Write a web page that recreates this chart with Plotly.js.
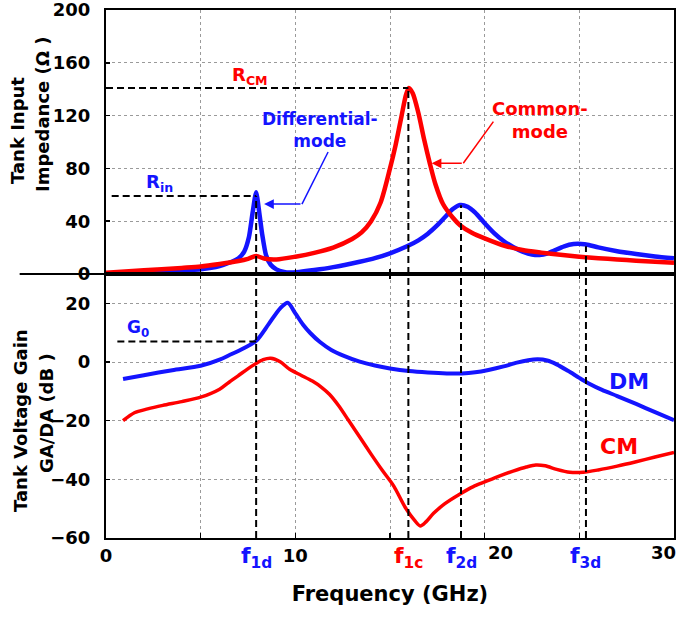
<!DOCTYPE html>
<html>
<head>
<meta charset="utf-8">
<script src="https://cdn.plot.ly/plotly-3.0.1.min.js"></script>
<style>
  html, body { margin: 0; padding: 0; background: #ffffff; }
  #chart { width: 679px; height: 617px; }
</style>
</head>
<body>
<div id="chart"></div>
<script>
// ---------------- data ----------------
// Top panel: tank input impedance (Ohm) vs frequency (GHz)
var freqDMz = [0.5, 2, 3.5, 5.0, 6.0, 6.5, 7.0, 7.3, 7.55, 7.75, 7.93, 8.1, 8.25, 8.45, 8.7, 9.0, 9.4, 9.7, 10.2, 11.0, 12.0, 13.4, 14.2, 15.0, 15.9, 16.5, 17.0, 17.5, 17.9, 18.3, 18.7, 19.1, 19.5, 20.0, 20.5, 21.0, 21.5, 22.0, 22.5, 22.9, 23.3, 23.7, 24.2, 24.7, 25.1, 25.5, 26.0, 27.0, 28.0, 29.0, 30.0];
var zDM     = [0.3, 1.0, 2.0, 3.5, 6.0, 8.5, 12, 17, 28, 47, 62, 46, 30, 14.4, 7, 3.5, 1.6, 1.1, 1.6, 3.0, 5.2, 9.3, 12, 15.7, 21, 25.5, 30.5, 37, 43, 49, 52.3, 51, 46.5, 38.5, 31, 25, 20.5, 17, 14.8, 14.4, 15.5, 18, 21, 22.7, 22.8, 22, 20.2, 17.3, 15.2, 13.3, 11.9];

var freqCMz = [0, 2, 4, 5, 6, 7, 7.5, 7.93, 8.4, 9.0, 10.0, 11.0, 12.0, 13.0, 13.5, 14.0, 14.5, 15.0, 15.3, 15.6, 15.85, 16.0, 16.2, 16.5, 16.8, 17.1, 17.4, 17.8, 18.3, 18.7, 19.3, 20.0, 21.1, 22.0, 23.0, 24.0, 25.0, 26.0, 27.0, 28.0, 29.0, 30.0];
var zCM     = [1, 2.8, 4.6, 5.6, 7.5, 9.8, 11.5, 13.6, 11.5, 11.0, 13.1, 16, 20, 26.5, 31.5, 40, 54, 80, 98, 119, 136, 141, 137, 122, 102, 84, 68, 53, 43, 37, 31.5, 27, 21.2, 18.2, 16.2, 14.5, 13.1, 12, 11, 10.1, 9.3, 8.6];

// Bottom panel: tank voltage gain (dB) vs frequency (GHz)
var freqDMg = [0.9, 2, 3.5, 5, 6, 6.5, 7.3, 7.93, 8.6, 9.2, 9.6, 10.0, 10.4, 10.8, 11.3, 11.9, 12.6, 13.4, 14.2, 15, 16, 17, 18, 18.8, 19.5, 20.2, 21, 21.7, 22.3, 22.8, 23.3, 23.8, 24.4, 25, 25.5, 26.2, 27, 28, 29, 30];
var gDM     = [-5.8, -4.5, -2.8, -1.3, 0.8, 2.3, 4.8, 7.2, 13, 18.3, 20.2, 16.6, 12.8, 9.8, 6.8, 4.1, 2, 0.1, -1.2, -2.2, -3.1, -3.6, -3.9, -3.9, -3.5, -2.7, -1.5, -0.2, 0.6, 0.9, 0.5, -0.8, -3.0, -5.4, -7.3, -9.5, -11.6, -14.3, -17.1, -19.8];

var freqCMg = [0.9, 1.5, 2.2, 3, 4, 5, 6, 6.5, 7, 7.7, 8.3, 8.7, 9.2, 9.7, 10.3, 10.9, 11.4, 11.8, 12.3, 12.8, 13.4, 14, 14.6, 15.2, 15.8, 16.3, 16.6, 16.9, 17.3, 17.9, 18.7, 19.4, 20, 20.8, 21.5, 22.2, 22.7, 23.2, 23.8, 24.5, 25.2, 26, 27, 28, 29, 30];
var gCM     = [-20, -17.3, -16, -14.8, -13.5, -12, -9.3, -6.9, -4.6, -1.4, 0.8, 1.3, 0.1, -2.5, -4.5, -6.5, -8.7, -11, -15, -19.8, -25.6, -31.4, -37, -42.3, -49.5, -54, -55.9, -54.5, -51.6, -48.3, -45, -42.5, -40.9, -38.8, -37.2, -35.8, -35.1, -35.4, -36.6, -37.6, -37.6, -36.8, -35.5, -34, -32.4, -30.8];

// marker frequencies (GHz) and levels
var markerNames = ['f1d', 'f1c', 'f2d', 'f3d'];
var markerFreqs = [7.93, 15.97, 18.75, 25.35];
var markerTopZ  = [59, 141, 52, 21];      // where the dashed guide meets the top curve (Ohm)
var markerLabel = ['f<sub>1d</sub>', 'f<sub>1c</sub>', 'f<sub>2d</sub>', 'f<sub>3d</sub>'];
var markerColor = ['#1414ff', '#ff0000', '#1414ff', '#1414ff'];
var Rin = 59, RCM = 141, G0 = 7;

// axis ticks
var zTicks = [0, 40, 80, 120, 160, 200];
var gTicks = [-60, -40, -20, 0, 20];
var fTicksAxis = [0, 10];          // labelled by the axis itself
var fTicksShifted = [20, 30];      // labelled beside their tick (as in the reference)

// ---------------- styling ----------------
var BLUE = '#1414ff', RED = '#ff0000';
var FAM = 'DejaVu Sans, Verdana, sans-serif';
function bf(size, color) { return {family: FAM, size: size, color: color || '#000', weight: 'bold'}; }

var traces = [
  {x: freqDMz, y: zDM, xaxis: 'x', yaxis: 'y', mode: 'lines', line: {color: BLUE, width: 4.5, shape: 'spline', smoothing: 0.6}, name: 'DM'},
  {x: freqCMz, y: zCM, xaxis: 'x', yaxis: 'y', mode: 'lines', line: {color: RED, width: 4.5, shape: 'spline', smoothing: 0.8}, name: 'CM'},
  {x: freqDMg, y: gDM, xaxis: 'x2', yaxis: 'y2', mode: 'lines', line: {color: BLUE, width: 4, shape: 'spline', smoothing: 0.8}, name: 'DM gain'},
  {x: freqCMg, y: gCM, xaxis: 'x2', yaxis: 'y2', mode: 'lines', line: {color: RED, width: 3.5, shape: 'spline', smoothing: 0.8}, name: 'CM gain'}
];

var DASH = '7px,4px';
var shapes = [];
// separator line extended to the left
shapes.push({type: 'line', xref: 'paper', yref: 'paper', x0: -0.152, x1: 1, y0: 0.5, y1: 0.5,
             line: {color: '#000', width: 2}, layer: 'above'});
// horizontal guides
shapes.push({type: 'line', xref: 'x', yref: 'y', x0: 0, x1: markerFreqs[1], y0: RCM, y1: RCM, line: {color: '#000', width: 2, dash: DASH}});
shapes.push({type: 'line', xref: 'x', yref: 'y', x0: 0.3, x1: markerFreqs[0], y0: Rin, y1: Rin, line: {color: '#000', width: 2, dash: DASH}});
shapes.push({type: 'line', xref: 'x2', yref: 'y2', x0: 0.6, x1: markerFreqs[0], y0: G0, y1: G0, line: {color: '#000', width: 2, dash: DASH}});
// vertical guides
for (var i = 0; i < markerFreqs.length; i++) {
  shapes.push({type: 'line', xref: 'x', yref: 'y', x0: markerFreqs[i], x1: markerFreqs[i], y0: 0, y1: markerTopZ[i],
               line: {color: '#000', width: 2, dash: DASH}});
  shapes.push({type: 'line', xref: 'x2', yref: 'y2', x0: markerFreqs[i], x1: markerFreqs[i], y0: -60, y1: 30,
               line: {color: '#000', width: 2, dash: DASH}});
}
// bent arrow shafts (diagonal parts)
shapes.push({type: 'line', xref: 'x', yref: 'y', x0: 11.73, y0: 92.4, x1: 10.35, y1: 53, line: {color: BLUE, width: 1.5}});
shapes.push({type: 'line', xref: 'x', yref: 'y', x0: 20.46, y0: 115.4, x1: 18.87, y1: 83.9, line: {color: RED, width: 1.5}});

function ytitle(x, y, text) {
  return {xref: 'paper', yref: 'paper', x: x, y: y, xanchor: 'center', yanchor: 'middle', text: text,
          textangle: -90, showarrow: false, font: bf(18)};
}

var annotations = [
  // horizontal arrow parts
  {xref: 'x', yref: 'y', axref: 'x', ayref: 'y', x: 8.35, y: 53, ax: 10.35, ay: 53, text: '', showarrow: true,
   arrowhead: 2, arrowsize: 1.3, arrowwidth: 1.5, arrowcolor: BLUE},
  {xref: 'x', yref: 'y', axref: 'x', ayref: 'y', x: 17.2, y: 83.9, ax: 18.87, ay: 83.9, text: '', showarrow: true,
   arrowhead: 2, arrowsize: 1.3, arrowwidth: 1.5, arrowcolor: RED},
  // labels
  {xref: 'x', yref: 'y', x: 11.3, y: 109, text: 'Differential-<br>mode', showarrow: false, font: bf(17, BLUE)},
  {xref: 'x', yref: 'y', x: 22.9, y: 117, text: 'Common-<br>mode', showarrow: false, font: bf(18, RED)},
  {xref: 'x', yref: 'y', x: 7.6, y: 150, text: 'R<sub>CM</sub>', showarrow: false, font: bf(18, RED)},
  {xref: 'x', yref: 'y', x: 2.85, y: 69, text: 'R<sub>in</sub>', showarrow: false, font: bf(18, BLUE)},
  {xref: 'x2', yref: 'y2', x: 1.7, y: 11.3, text: 'G<sub>0</sub>', showarrow: false, font: bf(17, BLUE)},
  {xref: 'x2', yref: 'y2', x: 27.6, y: -6.8, text: 'DM', showarrow: false, font: bf(22, BLUE)},
  {xref: 'x2', yref: 'y2', x: 27.1, y: -28.8, text: 'CM', showarrow: false, font: bf(22, RED)},
  // y-axis titles
  ytitle(-0.1567, 0.7727, 'Tank Input'),
  ytitle(-0.1127, 0.803, 'Impedance (\u03a9 )'),
  ytitle(-0.1496, 0.2216, 'Tank Voltage Gain'),
  ytitle(-0.1056, 0.2367, 'GA/DA (dB )'),
  // x tick labels 20 and 30, set beside their ticks
  {xref: 'x2', yref: 'paper', x: fTicksShifted[0], y: -0.0284, xanchor: 'left', yanchor: 'middle', xshift: 1,
   text: String(fTicksShifted[0]), showarrow: false, font: bf(18)},
  {xref: 'x2', yref: 'paper', x: fTicksShifted[1], y: -0.0284, xanchor: 'right', yanchor: 'middle', xshift: 4,
   text: String(fTicksShifted[1]), showarrow: false, font: bf(18)}
];
// marker frequency labels under the axis
for (var j = 0; j < markerFreqs.length; j++) {
  annotations.push({xref: 'x2', yref: 'paper', x: markerFreqs[j], y: -0.006, xanchor: 'center', yanchor: 'top', text: markerLabel[j],
                    showarrow: false, font: bf(22, markerColor[j])});
}

var GRID = '#9a9a9a';
var minorX = {dtick: 5, tick0: 0, ticks: 'inside', ticklen: 5, tickwidth: 1.5, tickcolor: '#000',
              showgrid: true, gridcolor: GRID, gridwidth: 1, griddash: 'dot'};

var layout = {
  width: 679, height: 617,
  margin: {l: 106, r: 5, t: 10, b: 79, pad: 0},
  paper_bgcolor: '#ffffff', plot_bgcolor: '#ffffff',
  showlegend: false,
  font: bf(18),
  xaxis: {anchor: 'y', domain: [0, 1], range: [0, 30], tickvals: fTicksAxis, showticklabels: false,
          ticks: 'inside', ticklen: 5, tickwidth: 1.5, tickcolor: '#000', minor: minorX,
          showgrid: true, gridcolor: GRID, gridwidth: 1, griddash: 'dot',
          showline: true, linecolor: '#000', linewidth: 2, mirror: true, zeroline: false},
  yaxis: {anchor: 'x', domain: [0.5, 1], range: [0, 200], tickvals: zTicks, ticklabeloverflow: 'allow',
          ticks: 'inside', ticklen: 4, tickwidth: 1.5, tickcolor: '#000', ticklabelstandoff: 10,
          showgrid: true, gridcolor: GRID, gridwidth: 1, griddash: 'dot',
          tickfont: bf(18), showline: true, linecolor: '#000', linewidth: 2, mirror: true, zeroline: false},
  xaxis2: {anchor: 'y2', domain: [0, 1], range: [0, 30], tickvals: fTicksAxis, ticklabeloverflow: 'allow',
          ticks: 'inside', ticklen: 5, tickwidth: 1.5, tickcolor: '#000', tickfont: bf(18), minor: minorX,
          showgrid: true, gridcolor: GRID, gridwidth: 1, griddash: 'dot',
          showline: true, linecolor: '#000', linewidth: 2, mirror: 'ticks', zeroline: false,
          title: {text: 'Frequency (GHz)', font: bf(21), standoff: 22}},
  yaxis2: {anchor: 'x2', domain: [0, 0.5], range: [-60, 30], tickvals: gTicks, ticklabeloverflow: 'allow',
          ticks: 'inside', ticklen: 4, tickwidth: 1.5, tickcolor: '#000', ticklabelstandoff: 10,
          showgrid: true, gridcolor: GRID, gridwidth: 1, griddash: 'dot',
          tickfont: bf(18), showline: true, linecolor: '#000', linewidth: 2, mirror: true, zeroline: false},
  shapes: shapes,
  annotations: annotations
};

Plotly.newPlot('chart', traces, layout, {staticPlot: true, displayModeBar: false});
</script>
</body>
</html>
